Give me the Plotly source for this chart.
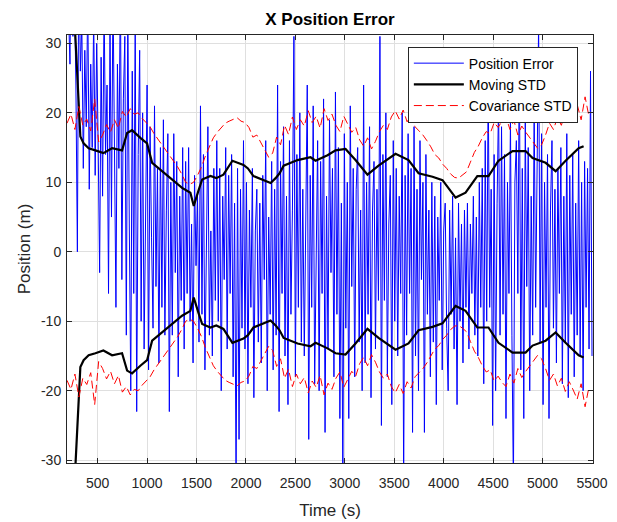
import plotly.graph_objects as go

# ---------------- data ----------------
# Position error, sampled every 15 s starting at t = 190 s
err_t0, err_dt = 190, 15
position_error = [
    42, 35, 27, 50, 31, 38, 24, 0, 44, 26,
    33, 12, 29, 18, 37, 9, 27, 15, 34, 11,
    30, 16, -3, 28, 8, 36, 14, 24, -6, 33,
    5, 38, 19, -8, 27, 12, 40, -4, 22, 31,
    -12, 35, 4, -20, 26, -6, 34, -23, 14, 29,
    -10, 20, -14, 9, 24, -17, 18, 2, -11, 21,
    -5, 12, -16, 15, -8, 19, -12, 6, 17, -23,
    10, -12, 17, -3, 13, -18, 8, -7, 15, -14,
    13, -6, 15, -10, 4, -16, 11, -2, 8, -13,
    21, -9, 14, -17, 6, 18, -12, 3, -15, 12,
    -7, 16, -10, 12, -20, 8, -4, 15, -14, 11,
    -6, 14, -18, 7, -34, 12, -27, 9, -11, 16,
    -14, 10, -19, 6, -8, 12, -21, 3, 9, -13,
    7, -16, 11, -4, 16, -20, 5, -9, 13, -17,
    9, -12, 24, -23, 13, -6, 18, -15, 8, -22,
    16, -9, 6, 31, -18, 14, -8, 20, -13, 9,
    -15, 6, 24, -27, 11, -8, 21, -19, 4, 16,
    -20, 13, -6, 22, -26, 8, -14, 19, -3, 12,
    -18, 23, -9, 15, -24, 7, -34, 17, -11, 10,
    -24, 21, -5, 12, -18, 9, 15, -13, 6, -20,
    24, -16, 10, -9, 18, -21, 6, 13, -14, 9,
    -7, 31, -25, 14, -7, 20, -18, 4, 11, -22,
    16, -10, 12, -15, 8, -6, 20, -33, 11, -12,
    17, -6, 12, -26, 18, -15, 9, -20, 16, -4,
    10, -26, 14, -9, 6, -18, 10, -13, 8, -22,
    5, -7, 10, -17, 3, 7, -11, -20, 6, -9,
    8, -14, 2, -22, 7, -10, 4, -16, 6, -8,
    7, -14, 4, -6, 8, -12, 5, -15, 10, -8,
    12, -19, 16, -10, 25, -8, 9, -25, 14, -20,
    7, 22, -12, 18, -9, 14, -24, 10, -6, 19,
    -12, -34, 10, 16, -6, 29, -17, 12, -24, 19,
    -5, 15, -20, 8, -12, 21, -8, 14, 33, -13,
    17, -22, 10, -8, 14, -24, 6, 16, -11, 9,
    -16, 12, -6, 15, -19, 8, -13, 17, -21, 11,
    -9, 14, -18, 7, -12, 16, -15, 10, -20, 13,
    -8, 12, -14, 26, -15,
]
error_time = [err_t0 + err_dt * i for i in range(len(position_error))]

# Moving standard deviation (upper envelope; lower is its negative)
std_time = [250, 274, 302, 325, 358, 409, 477, 558, 646, 747, 798, 848,
            932, 1000, 1051, 1152, 1253, 1354, 1438, 1472, 1522, 1557,
            1641, 1700, 1772, 1863, 1975, 2020, 2076, 2249, 2300, 2340,
            2381, 2522, 2653, 2704, 2825, 2906, 3007, 3108, 3229, 3341,
            3513, 3644, 3746, 3887, 3988, 4120, 4221, 4340, 4453, 4554,
            4696, 4828, 4899, 5031, 5132, 5233, 5365, 5415]
moving_std = [38, 31.4, 21.8, 16.6, 15.6, 14.9, 14.6, 14.2, 14.9, 14.6, 17.1, 17.5,
              16.4, 15.6, 12.8, 11.6, 10.4, 9.2, 8.5, 6.6, 8.9, 10.4,
              10.9, 10.6, 11.1, 13.1, 12.5, 12.0, 10.9, 9.9, 10.6, 11.3,
              12.4, 13.2, 13.6, 13.1, 13.9, 14.6, 14.8, 13.2, 11.1, 12.4,
              14.1, 13.2, 11.3, 10.8, 10.3, 7.8, 8.5, 10.9, 10.9, 13.1,
              14.5, 14.5, 13.5, 12.8, 11.6, 13.1, 14.9, 15.2]

# Covariance standard deviation (upper; lower is its negative), every 40 s
cov_t0, cov_dt = 190, 40
covariance_std = [
    18.5, 19.8, 17.6, 20.9, 18.2, 19.1, 17.4, 22.0, 15.8, 16.8,
    18.3, 17.2, 19.0, 17.8, 20.2, 19.4, 20.6, 19.8, 20.0, 19.2,
    18.6, 18.0, 17.0, 16.2, 15.4, 14.6, 13.9, 13.0, 12.2, 11.2,
    10.0, 9.7, 10.0, 11.0, 12.2, 13.8, 15.0, 16.4, 17.2, 17.8,
    18.5, 18.8, 19.0, 19.3, 18.8, 18.6, 17.9, 16.5, 16.8, 15.7,
    14.8, 13.6, 14.2, 16.5, 15.4, 18.2, 16.9, 19.4, 17.6, 19.0,
    18.1, 20.3, 18.6, 19.5, 17.8, 20.6, 18.9, 19.8, 18.2, 17.3,
    19.5, 18.4, 17.2, 17.9, 16.1, 15.2, 16.4, 14.8, 15.9, 17.3,
    18.2, 17.6, 19.4, 20.3, 19.1, 20.4, 18.7, 19.6, 18.0, 17.4,
    16.8, 16.0, 15.1, 14.0, 13.5, 12.6, 12.0, 11.2, 10.7, 10.6,
    11.0, 11.5, 12.9, 14.3, 15.2, 16.4, 17.3, 17.0, 18.6, 17.9,
    18.8, 19.4, 17.6, 18.9, 16.8, 18.1, 17.2, 16.4, 15.6, 14.9,
    15.4, 16.8, 18.5, 17.6, 19.3, 18.2, 20.1, 18.7, 19.9, 21.2,
    19.0, 22.3, 19.4,
]
cov_time = [cov_t0 + cov_dt * i for i in range(len(covariance_std))]

x_ticks = [500, 1000, 1500, 2000, 2500, 3000, 3500, 4000, 4500, 5000, 5500]
y_ticks = [-30, -20, -10, 0, 10, 20, 30]
y_tick_labels = ["-30", "-20", "-10", "0", "10", "20", "30"]

# ---------------- figure ----------------
FONT = "Liberation Sans, Arial, Helvetica, sans-serif"
AX = "#262626"

fig = go.Figure()
fig.add_trace(go.Scatter(x=error_time, y=position_error, mode="lines",
                         name="Position Error",
                         line=dict(color="#0000ff", width=1)))
fig.add_trace(go.Scatter(x=std_time, y=moving_std, mode="lines",
                         name="Moving STD", legendgroup="ms",
                         line=dict(color="#000000", width=2.2)))
fig.add_trace(go.Scatter(x=std_time, y=[-v for v in moving_std], mode="lines",
                         name="Moving STD", legendgroup="ms", showlegend=False,
                         line=dict(color="#000000", width=2.2)))
fig.add_trace(go.Scatter(x=cov_time, y=covariance_std, mode="lines",
                         name="Covariance STD", legendgroup="cs",
                         line=dict(color="#ff0000", width=1, dash="8px,4px")))
fig.add_trace(go.Scatter(x=cov_time, y=[-v for v in covariance_std], mode="lines",
                         name="Covariance STD", legendgroup="cs", showlegend=False,
                         line=dict(color="#ff0000", width=1, dash="8px,4px")))

axis_common = dict(
    showline=True, linecolor=AX, linewidth=1, mirror="ticks",
    ticks="inside", ticklen=5, tickcolor=AX, tickwidth=1,
    showgrid=True, gridcolor="#dfdfdf", gridwidth=1, zeroline=False,
    automargin=False,
    tickfont=dict(family=FONT, size=14, color=AX),
)

# the page body has an 8 px margin, so the figure is 8 px smaller
fig.update_layout(
    width=609, height=514,
    margin=dict(l=59, r=24, t=27, b=59),
    paper_bgcolor="white", plot_bgcolor="white",
    title=dict(text="<b>X Position Error</b>", x=0.5, xref="paper",
               y=1 - 11 / 514, yanchor="middle",
               font=dict(family=FONT, size=17, color="#000000")),
    xaxis=dict(range=[190, 5510], tickvals=x_ticks, ticklabelstandoff=7,
               title=dict(text="Time (s)", standoff=14,
                          font=dict(family=FONT, size=17, color=AX)),
               **axis_common),
    yaxis=dict(range=[-30.4, 31.2], tickvals=y_ticks, ticktext=y_tick_labels,
               ticklabelstandoff=2,
               title=dict(text="Position (m)", standoff=6,
                          font=dict(family=FONT, size=17, color=AX)),
               **axis_common),
    legend=dict(x=0.648, y=0.973, xanchor="left", yanchor="top",
                bgcolor="white", bordercolor=AX, borderwidth=1,
                font=dict(family=FONT, size=14, color="#000000"),
                itemwidth=50, tracegroupgap=0),
    showlegend=True,
)

fig.write_html("out.html")
